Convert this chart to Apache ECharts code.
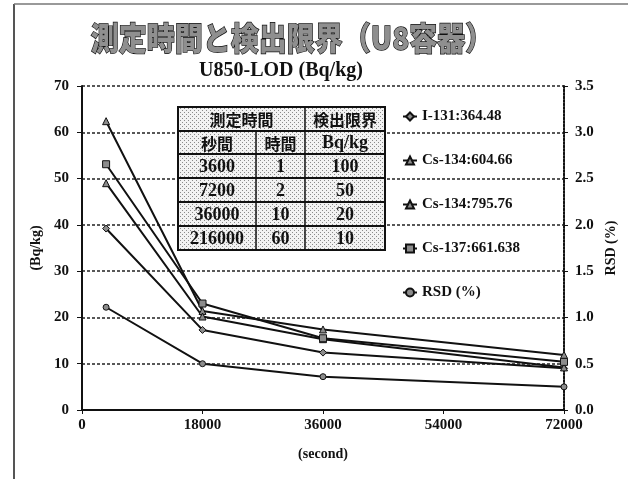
<!DOCTYPE html>
<html>
<head>
<meta charset="utf-8">
<script src="https://cdn.jsdelivr.net/npm/echarts@6/dist/echarts.min.js"></script>
<style>
  html, body { margin: 0; padding: 0; background: #fff; }
  #chart { width: 628px; height: 479px; }
</style>
</head>
<body>
<div id="chart"></div>
<script>
// Measurement times (s) on the x axis
const xSeconds = [3600, 18000, 36000, 72000];
const xTicks = [0, 18000, 36000, 54000, 72000];

// Detection limits (Bq/kg) per nuclide line
const seriesNames = ['I-131:364.48', 'Cs-134:604.66', 'Cs-134:795.76', 'Cs-137:661.638', 'RSD (%)'];
const i131 = [39.2, 17.3, 12.4, 9.0];
const cs134a = [62.4, 21.4, 17.4, 11.9];
const cs134b = [49.0, 20.2, 15.3, 9.2];
const cs137 = [53.1, 23.0, 15.5, 10.4];
// Relative standard deviation (%) on the right axis
const rsd = [1.11, 0.50, 0.36, 0.25];

// Measurement-time / detection-limit table
const tableHead1 = ['測定時間', '検出限界'];
const tableHead2 = ['秒間', '時間', 'Bq/kg'];
const tableSeconds = ['3600', '7200', '36000', '216000'];
const tableHours = ['1', '2', '10', '60'];
const tableLimits = ['100', '50', '20', '10'];

const serif = '"Liberation Serif", "DejaVu Serif", serif';
const cjk = '"Noto Sans CJK JP", sans-serif';

// stippled fill for the table cells
function stipple() {
  const c = document.createElement('canvas');
  c.width = 4; c.height = 4;
  const g = c.getContext('2d');
  g.fillStyle = '#f2f2f2';
  g.fillRect(0, 0, 4, 4);
  g.fillStyle = '#8a8a8a';
  g.fillRect(0, 0, 1, 1);
  g.fillRect(2, 2, 1, 1);
  return c;
}

function pairs(ys) { return xSeconds.map((x, i) => [x, ys[i]]); }

const markerStyle = { color: '#8c8c8c', borderColor: '#111', borderWidth: 1 };
function lineSeries(name, ys, symbol, yAxisIndex) {
  return {
    name, type: 'line', data: pairs(ys), yAxisIndex: yAxisIndex || 0,
    symbol, symbolSize: symbol === 'circle' ? 6 : 7, showSymbol: true,
    lineStyle: { color: '#111', width: 2 },
    itemStyle: markerStyle,
    emphasis: { disabled: true },
    animation: false, z: 3
  };
}

// table layout
const tX = [178, 256, 305, 385];
const tY = [107, 131, 154, 178, 202, 226, 250];
const pat = { image: stipple(), repeat: 'repeat' };
const tableEls = [];
tableEls.push({ type: 'rect', shape: { x: tX[0], y: tY[0], width: tX[3] - tX[0], height: tY[6] - tY[0] },
  style: { fill: pat, stroke: '#111', lineWidth: 2 }, z: 10 });
for (let r = 1; r < 6; r++) {
  tableEls.push({ type: 'line', shape: { x1: tX[0], y1: tY[r], x2: tX[3], y2: tY[r] }, style: { stroke: '#111', lineWidth: 2 }, z: 11 });
}
tableEls.push({ type: 'line', shape: { x1: tX[1], y1: tY[1], x2: tX[1], y2: tY[6] }, style: { stroke: '#111', lineWidth: 1.5 }, z: 11 });
tableEls.push({ type: 'line', shape: { x1: tX[2], y1: tY[0], x2: tX[2], y2: tY[6] }, style: { stroke: '#111', lineWidth: 1.5 }, z: 11 });
function cell(text, x1, x2, r, font) {
  tableEls.push({ type: 'text', x: (x1 + x2) / 2, y: (tY[r] + tY[r + 1]) / 2 + 1,
    style: { text, fill: '#111', font, textAlign: 'center', textVerticalAlign: 'middle' }, z: 12 });
}
cell(tableHead1[0], tX[0], tX[2], 0, 'bold 16px ' + cjk);
cell(tableHead1[1], tX[2], tX[3], 0, 'bold 16px ' + cjk);
cell(tableHead2[0], tX[0], tX[1], 1, 'bold 16px ' + cjk);
cell(tableHead2[1], tX[1], tX[2], 1, 'bold 16px ' + cjk);
cell(tableHead2[2], tX[2], tX[3], 1, 'bold 18px ' + serif);
for (let i = 0; i < tableSeconds.length; i++) {
  cell(tableSeconds[i], tX[0], tX[1], i + 2, 'bold 18px ' + serif);
  cell(tableHours[i], tX[1], tX[2], i + 2, 'bold 18px ' + serif);
  cell(tableLimits[i], tX[2], tX[3], i + 2, 'bold 18px ' + serif);
}

const chart = echarts.init(document.getElementById('chart'), null, { renderer: 'canvas' });
chart.setOption({
  backgroundColor: '#fff',
  animation: false,
  grid: { left: 82, right: 64, top: 86, bottom: 69, containLabel: false },
  legend: {
    orient: 'vertical', left: 397, top: 104,
    itemWidth: 14, itemHeight: 10, itemGap: 29, lineHeight: 14,
    textStyle: { fontFamily: serif, fontWeight: 'bold', fontSize: 15, color: '#111', lineHeight: 14 },
    data: seriesNames, selectedMode: false
  },
  xAxis: {
    type: 'value', min: 0, max: 72000, interval: 18000,
    name: '(second)', nameLocation: 'middle', nameGap: 37,
    nameTextStyle: { fontFamily: serif, fontWeight: 'bold', fontSize: 14, color: '#111' },
    axisLine: { show: true, onZero: false, lineStyle: { color: '#111', width: 2 } },
    axisTick: { show: true, length: 4, lineStyle: { color: '#111' } },
    axisLabel: { margin: 8, fontFamily: serif, fontWeight: 'bold', fontSize: 15, color: '#111',
      formatter: v => xTicks.includes(v) ? String(v) : '' },
    splitLine: { show: false }
  },
  yAxis: [
    {
      type: 'value', min: 0, max: 70, interval: 10, position: 'left',
      name: '(Bq/kg)', nameLocation: 'middle', nameGap: 31, nameRotate: 90,
      nameTextStyle: { fontFamily: serif, fontWeight: 'bold', fontSize: 14, color: '#111' },
      axisLine: { show: true, lineStyle: { color: '#111', width: 2 } },
      axisTick: { show: true, length: 5, lineStyle: { color: '#111' } },
      axisLabel: { margin: 13, fontFamily: serif, fontWeight: 'bold', fontSize: 15, color: '#111' },
      splitLine: { show: true, lineStyle: { color: '#222', type: [3, 2], width: 1.5 } }
    },
    {
      type: 'value', min: 0, max: 3.5, interval: 0.5, position: 'right',
      name: 'RSD (%)', nameLocation: 'middle', nameGap: 37, nameRotate: 90,
      nameTextStyle: { fontFamily: serif, fontWeight: 'bold', fontSize: 14, color: '#111' },
      axisLine: { show: true, lineStyle: { color: '#111', width: 2, type: [2, 1.5] } },
      axisTick: { show: true, length: 4, inside: false, lineStyle: { color: '#111' } },
      axisLabel: { margin: 11, fontFamily: serif, fontWeight: 'bold', fontSize: 15, color: '#111',
        formatter: v => v.toFixed(1) },
      splitLine: { show: false }
    }
  ],
  series: [
    lineSeries(seriesNames[0], i131, 'diamond'),
    lineSeries(seriesNames[1], cs134a, 'triangle'),
    lineSeries(seriesNames[2], cs134b, 'triangle'),
    lineSeries(seriesNames[3], cs137, 'rect'),
    lineSeries(seriesNames[4], rsd, 'circle', 1)
  ],
  graphic: [
    // slide frame
    { type: 'line', shape: { x1: 14, y1: 4, x2: 14, y2: 479 }, style: { stroke: '#555', lineWidth: 2 }, z: 1 },
    { type: 'line', shape: { x1: 14, y1: 4, x2: 628, y2: 4 }, style: { stroke: '#777', lineWidth: 1.5 }, z: 1 },
    // main heading
    { type: 'text', x: 292, y: 38, scaleY: 1.15,
      style: { text: '測定時間と検出限界（U8容器）', font: '900 28px ' + cjk, fill: '#8f8f8f', stroke: '#111', lineWidth: 1.2,
        textAlign: 'center', textVerticalAlign: 'middle' }, z: 20 },
    // chart subtitle
    { type: 'text', x: 281, y: 71,
      style: { text: 'U850-LOD (Bq/kg)', font: 'bold 20px ' + serif, fill: '#111',
        textAlign: 'center', textVerticalAlign: 'middle' }, z: 20 },
    ...tableEls
  ]
});
</script>
</body>
</html>
